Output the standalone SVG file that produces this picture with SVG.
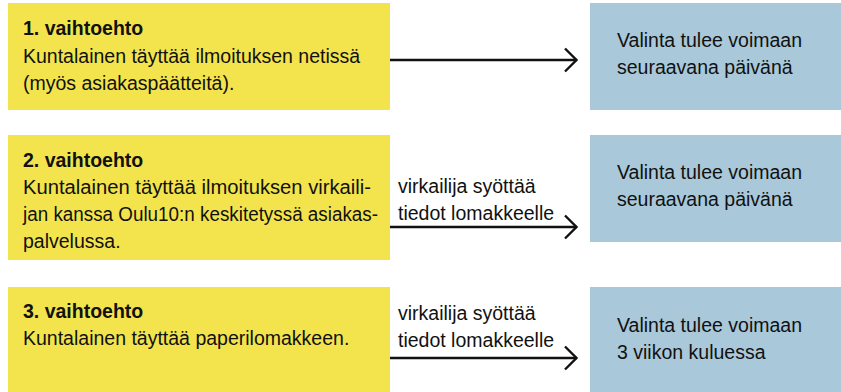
<svg xmlns="http://www.w3.org/2000/svg" width="841" height="392" viewBox="0 0 841 392">
<style>
  .opt { fill: #f3e44e; }
  .res { fill: #a9c8d9; }
  text { font-family: "Liberation Sans", Arial, sans-serif; font-size: 19.5px; fill: #111111; }
  .b { font-weight: bold; }
  .conn { stroke: #111111; stroke-width: 2.4; fill: none; marker-end: url(#arr); }
</style>
<defs>
  <marker id="arr" markerUnits="userSpaceOnUse" viewBox="0 0 16 28" refX="14" refY="14" markerWidth="16" markerHeight="28" orient="auto">
    <path d="M2,2.5 L13.5,14 L2,25.5" fill="none" stroke="#111111" stroke-width="2.4"/>
  </marker>
</defs>

<g id="option1">
  <rect class="opt" x="8" y="3" width="382" height="107"/>
  <text x="23" y="35" class="b">1. vaihtoehto</text>
  <text x="23" y="63">Kuntalainen täyttää ilmoituksen netissä</text>
  <text x="23" y="90">(myös asiakaspäätteitä).</text>
</g>
<g id="result1">
  <rect class="res" x="590" y="3" width="251" height="107"/>
  <text x="617" y="47">Valinta tulee voimaan</text>
  <text x="617" y="74">seuraavana päivänä</text>
</g>

<g id="option2">
  <rect class="opt" x="8" y="135" width="382" height="125"/>
  <text x="23" y="167" class="b">2. vaihtoehto</text>
  <text x="23" y="194" textLength="348" lengthAdjust="spacingAndGlyphs">Kuntalainen täyttää ilmoituksen virkaili-</text>
  <text x="23" y="221" textLength="355" lengthAdjust="spacingAndGlyphs">jan kanssa Oulu10:n keskitetyssä asiakas-</text>
  <text x="23" y="248">palvelussa.</text>
</g>
<g id="result2">
  <rect class="res" x="590" y="135" width="251" height="107"/>
  <text x="617" y="179">Valinta tulee voimaan</text>
  <text x="617" y="206">seuraavana päivänä</text>
</g>

<g id="option3">
  <rect class="opt" x="8" y="287" width="382" height="105"/>
  <text x="23" y="318" class="b">3. vaihtoehto</text>
  <text x="23" y="345">Kuntalainen täyttää paperilomakkeen.</text>
</g>
<g id="result3">
  <rect class="res" x="590" y="287" width="251" height="105"/>
  <text x="617" y="332">Valinta tulee voimaan</text>
  <text x="617" y="359">3 viikon kuluessa</text>
</g>

<g id="connectors">
  <line class="conn" x1="390" y1="60" x2="577" y2="60"/>
  <line class="conn" x1="390" y1="227" x2="577" y2="227"/>
  <line class="conn" x1="390" y1="358" x2="577" y2="358"/>
  <text x="398" y="193">virkailija syöttää</text>
  <text x="398" y="220">tiedot lomakkeelle</text>
  <text x="398" y="320">virkailija syöttää</text>
  <text x="398" y="347">tiedot lomakkeelle</text>
</g>
</svg>
